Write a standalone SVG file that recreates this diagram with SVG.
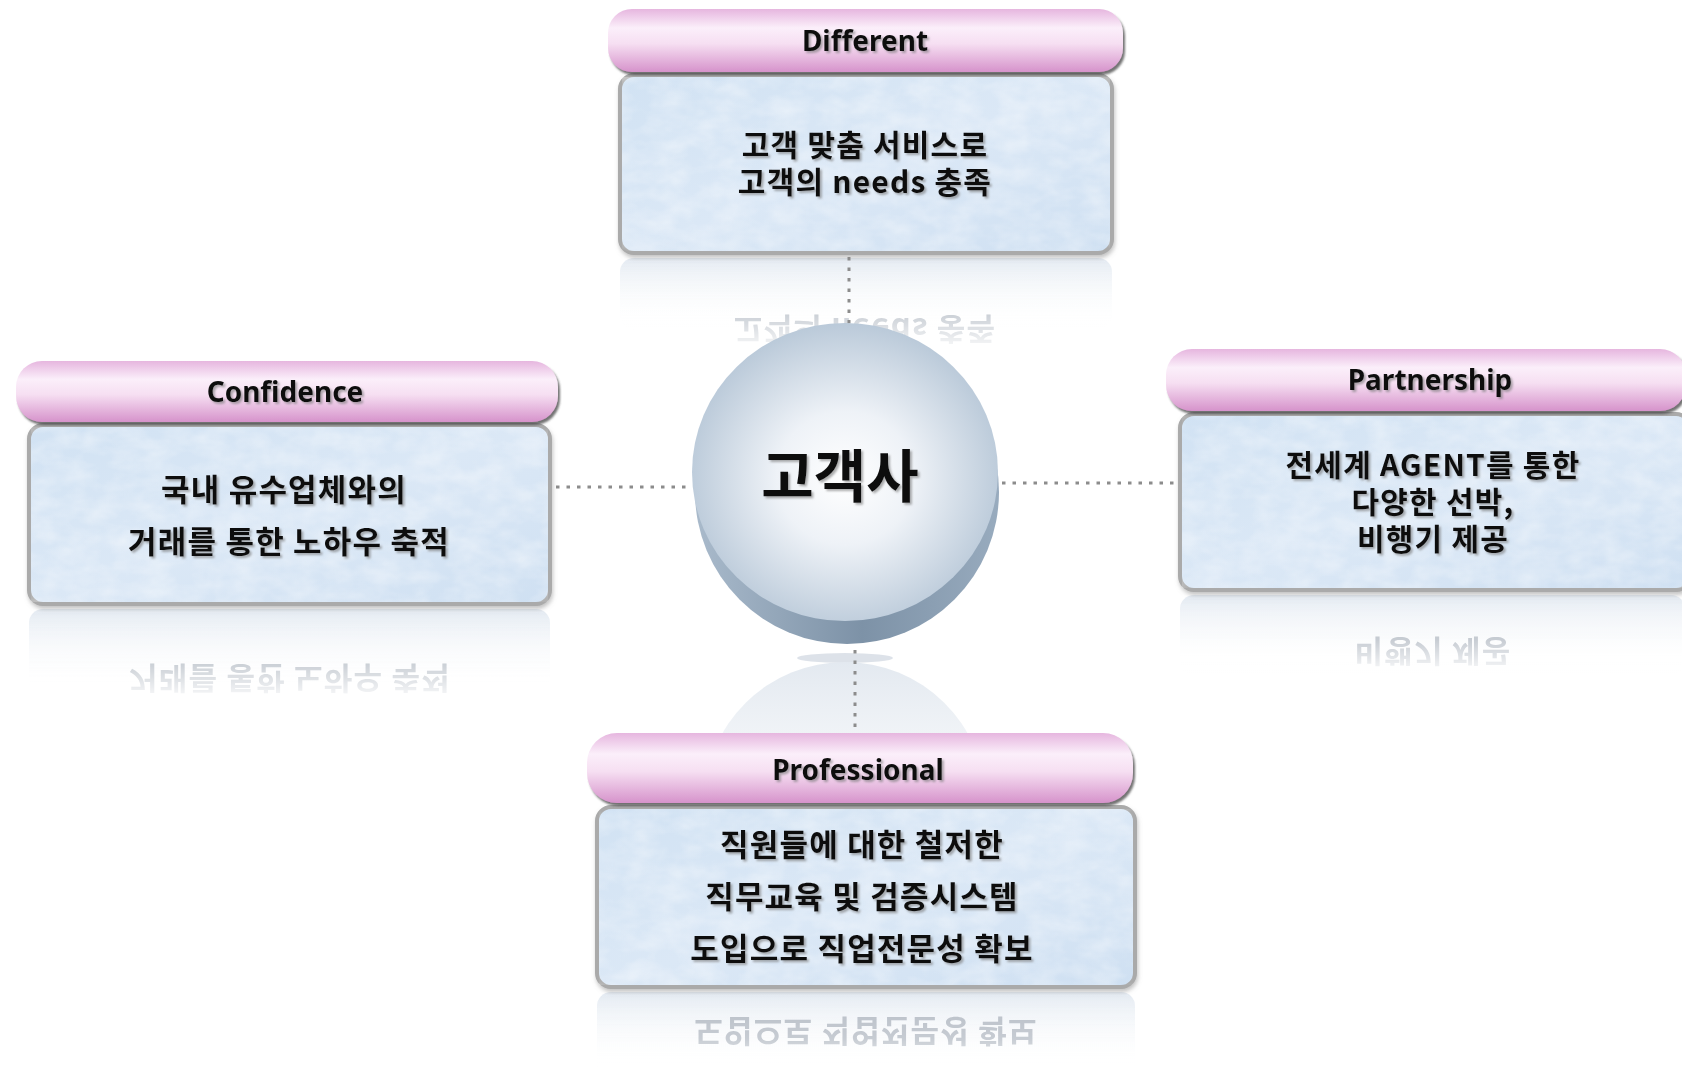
<svg xmlns="http://www.w3.org/2000/svg" width="1682" height="1077" viewBox="0 0 1682 1077">
<style>
.hdr{fill:url(#gHdr);filter:url(#fHdr)}
.body{fill:url(#gBody);stroke:#aaaaaa;stroke-width:4}
.tex{fill:#ffffff;opacity:0.4;filter:url(#fTex)}
.ht{font-family:"Noto Sans","Noto Sans CJK KR",sans-serif;font-weight:700;font-size:28px;fill:#111;text-anchor:middle;filter:url(#fTs)}
.bt{font-family:"Noto Sans CJK KR","Noto Sans",sans-serif;font-weight:700;font-size:31px;letter-spacing:1.2px;fill:#111;text-anchor:middle;filter:url(#fTs)}
.bs{font-size:30px}
.rt{font-family:"Noto Sans CJK KR","Noto Sans",sans-serif;font-weight:700;font-size:31px;letter-spacing:1.2px;fill:#b4bbc4;text-anchor:middle}
.ref{fill:url(#gRef)}
.con{fill:none;stroke:#8c8c8c;stroke-width:3;stroke-dasharray:3.5 7}
</style>
<defs>
<linearGradient id="gHdr" x1="0" y1="0" x2="0" y2="1">
<stop offset="0" stop-color="#e6b6df"/>
<stop offset="0.3" stop-color="#fbeffa"/>
<stop offset="0.55" stop-color="#f6dff2"/>
<stop offset="1" stop-color="#d693cb"/>
</linearGradient>
<linearGradient id="gBody" x1="0" y1="0" x2="1" y2="1">
<stop offset="0" stop-color="#d1e2f3"/>
<stop offset="0.5" stop-color="#dbe8f6"/>
<stop offset="1" stop-color="#cfe0f2"/>
</linearGradient>
<linearGradient id="gRef" x1="0" y1="0" x2="0" y2="1">
<stop offset="0" stop-color="#e2e9f1" stop-opacity="0.95"/>
<stop offset="1" stop-color="#ffffff" stop-opacity="0"/>
</linearGradient>
<linearGradient id="gFade" x1="0" y1="0" x2="0" y2="1">
<stop offset="0" stop-color="#fff" stop-opacity="1"/>
<stop offset="0.55" stop-color="#fff" stop-opacity="0.75"/>
<stop offset="1" stop-color="#fff" stop-opacity="0"/>
</linearGradient>
<radialGradient id="gFace" cx="0.5" cy="0.52" r="0.56">
<stop offset="0" stop-color="#ffffff"/>
<stop offset="0.4" stop-color="#eef2f7"/>
<stop offset="1" stop-color="#b3c4d5"/>
</radialGradient>
<linearGradient id="gSide" x1="0" y1="0" x2="1" y2="0">
<stop offset="0" stop-color="#a9bacb"/>
<stop offset="0.55" stop-color="#7d92a7"/>
<stop offset="1" stop-color="#98abbe"/>
</linearGradient>
<linearGradient id="gDiscRef" x1="0" y1="0" x2="0" y2="1">
<stop offset="0" stop-color="#e3e9f0"/>
<stop offset="1" stop-color="#ffffff" stop-opacity="0"/>
</linearGradient>
<filter id="fHdr" x="-5%" y="-20%" width="110%" height="150%">
<feDropShadow dx="2" dy="3" stdDeviation="1.2" flood-color="#444" flood-opacity="0.75"/>
</filter>
<filter id="fBox" x="-5%" y="-10%" width="110%" height="125%">
<feDropShadow dx="1" dy="3" stdDeviation="2" flood-color="#888" flood-opacity="0.5"/>
</filter>
<filter id="fTs" x="-10%" y="-30%" width="120%" height="160%">
<feDropShadow dx="2" dy="2" stdDeviation="1.2" flood-color="#777" flood-opacity="0.6"/>
</filter>
<filter id="fTex" x="0" y="0" width="100%" height="100%">
<feTurbulence type="fractalNoise" baseFrequency="0.035 0.06" numOctaves="3" seed="4" result="n"/>
<feColorMatrix in="n" type="matrix" values="0 0 0 0 1  0 0 0 0 1  0 0 0 0 1  0 0 0 -1.6 1.1"/>
</filter>
<mask id="mFade" maskContentUnits="objectBoundingBox">
<rect x="0" y="0" width="1" height="1" fill="url(#gFade)"/>
</mask>
<clipPath id="cDiscRef"><rect x="680" y="655" width="330" height="80"/></clipPath>
</defs>
<rect width="1682" height="1077" fill="#ffffff"/>

<!-- reflections -->
<g id="reflections">
  <g mask="url(#mFade)">
    <rect class="ref" x="620" y="258" width="492" height="72" rx="14"/>
    <text class="rt" transform="translate(0,500) scale(1,-1)" x="865" y="182">고객의 needs 충족</text>
  </g>
  <g mask="url(#mFade)">
    <rect class="ref" x="29" y="609" width="521" height="85" rx="14"/>
    <text class="rt" transform="translate(0,1210) scale(1,-1)" x="290" y="543">거래를 통한 노하우 축적</text>
  </g>
  <g mask="url(#mFade)">
    <rect class="ref" x="1180" y="595" width="505" height="80" rx="14"/>
    <text class="rt" transform="translate(0,1178) scale(1,-1)" x="1433" y="538">비행기 제공</text>
  </g>
  <g mask="url(#mFade)">
    <rect class="ref" x="597" y="992" width="538" height="85" rx="14"/>
    <text class="rt" transform="translate(0,1970) scale(1,-1)" x="866" y="950">도입으로 직업전문성 확보</text>
  </g>
  <ellipse cx="845" cy="658" rx="48" ry="5" fill="#d4dbe3" opacity="0.8"/>
  <g clip-path="url(#cDiscRef)">
    <ellipse cx="845" cy="800" rx="140" ry="138" fill="url(#gDiscRef)"/>
  </g>
</g>

<g id="connectors">
  <line class="con" x1="849" y1="257" x2="849" y2="330"/>
  <line class="con" x1="556" y1="487" x2="690" y2="487"/>
  <line class="con" x1="1002" y1="483" x2="1178" y2="483"/>
  <line class="con" x1="855" y1="650" x2="855" y2="733"/>
</g>

<g id="center">
  <ellipse cx="847" cy="492" rx="152" ry="152" fill="url(#gSide)"/>
  <ellipse cx="845" cy="472" rx="153" ry="149" fill="url(#gFace)"/>
  <text x="840" y="497" font-family="Noto Sans CJK KR, sans-serif" font-weight="700" font-size="57" fill="#0a0a0a" text-anchor="middle" filter="url(#fTs)">고객사</text>
</g>

<g id="different">
  <g filter="url(#fBox)">
    <rect class="body" x="620" y="75" width="492" height="178" rx="14"/>
  </g>
  <rect class="tex" x="622" y="77" width="488" height="174" rx="12"/>
  <rect class="hdr" x="608" y="9" width="515" height="63" rx="24"/>
  <text class="ht" x="865" y="51">Different</text>
  <text class="bt bs" x="865" y="156">고객 맞춤 서비스로</text>
  <text class="bt bs" x="865" y="193">고객의 needs 충족</text>
</g>

<g id="confidence">
  <g filter="url(#fBox)">
    <rect class="body" x="29" y="425" width="521" height="179" rx="14"/>
  </g>
  <rect class="tex" x="31" y="427" width="517" height="175" rx="12"/>
  <rect class="hdr" x="16" y="361" width="542" height="61" rx="26"/>
  <text class="ht" x="285" y="402">Confidence</text>
  <text class="bt" x="284" y="501">국내 유수업체와의</text>
  <text class="bt" x="289" y="553">거래를 통한 노하우 축적</text>
</g>

<g id="partnership">
  <g filter="url(#fBox)">
    <rect class="body" x="1180" y="414" width="510" height="176" rx="14"/>
  </g>
  <rect class="tex" x="1182" y="416" width="506" height="172" rx="12"/>
  <rect class="hdr" x="1166" y="349" width="520" height="62" rx="26"/>
  <text class="ht" x="1430" y="390">Partnership</text>
  <text class="bt bs" x="1433" y="476">전세계 AGENT를 통한</text>
  <text class="bt bs" x="1433" y="513">다양한 선박,</text>
  <text class="bt bs" x="1433" y="550">비행기 제공</text>
</g>

<g id="professional">
  <g filter="url(#fBox)">
    <rect class="body" x="597" y="807" width="538" height="180" rx="14"/>
  </g>
  <rect class="tex" x="599" y="809" width="534" height="176" rx="12"/>
  <rect class="hdr" x="587" y="733" width="546" height="70" rx="30"/>
  <text class="ht" x="858" y="780">Professional</text>
  <text class="bt" x="862" y="856">직원들에 대한 철저한</text>
  <text class="bt" x="862" y="908">직무교육 및 검증시스템</text>
  <text class="bt" x="862" y="960">도입으로 직업전문성 확보</text>
</g>
</svg>
